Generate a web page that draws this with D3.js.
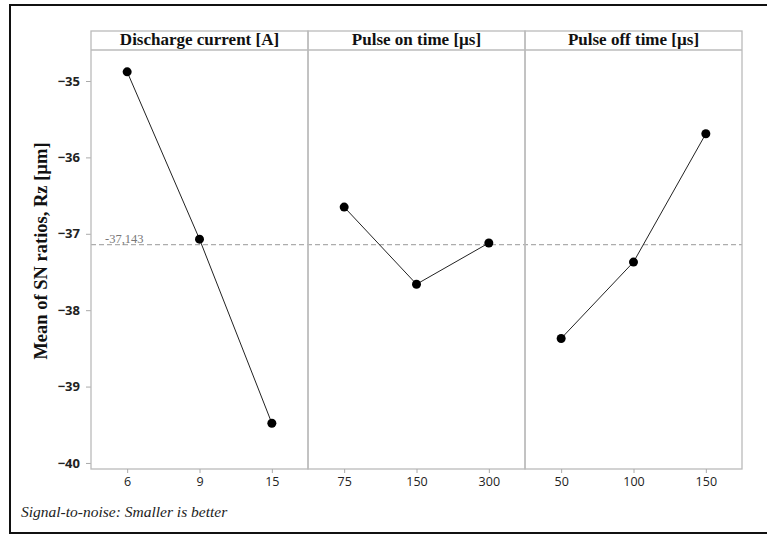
<!DOCTYPE html>
<html>
<head>
<meta charset="utf-8">
<script src="https://cdn.jsdelivr.net/npm/d3@7"></script>
<style>
  body { margin: 0; background: #fff; }
  .tick text { font-family: "Open Sans", "Noto Sans", sans-serif; }
  .serif { font-family: "Liberation Serif", "Times New Roman", serif; }
</style>
</head>
<body>
<script>
const factors = ["Discharge current [A]", "Pulse on time [µs]", "Pulse off time [µs]"];
const levels = [["6", "9", "15"], ["75", "150", "300"], ["50", "100", "150"]];
const snMeans = [
  [-34.88, -37.07, -39.48],
  [-36.65, -37.66, -37.12],
  [-38.37, -37.37, -35.69]
];
const yTicks = [-35, -36, -37, -38, -39, -40];
const grandMean = -37.143;

const width = 767, height = 534;
const plotLeft = 91, plotRight = 742, plotTop = 31, headerBottom = 50, plotBottom = 469;

const svg = d3.select("body").append("svg")
  .attr("width", width)
  .attr("height", height);

// outer frame
svg.append("rect")
  .attr("x", 10).attr("y", 5)
  .attr("width", 780).attr("height", 528)
  .attr("fill", "none")
  .attr("stroke", "#111")
  .attr("stroke-width", 2);

const x = d3.scaleBand().domain(factors).range([plotLeft, plotRight]);
const y = d3.scaleLinear().domain([-40.079, -34.594]).range([plotBottom, headerBottom]);

// y axis
const yAxis = svg.append("g")
  .attr("transform", `translate(${plotLeft},0)`)
  .call(d3.axisLeft(y).tickValues(yTicks).tickSize(5).tickPadding(6).tickFormat(d3.format("d")));
yAxis.select(".domain").remove();
yAxis.selectAll(".tick line").attr("stroke", "#aaa");
yAxis.selectAll(".tick text")
  .attr("font-size", 13)
  .attr("font-weight", 700)
  .attr("fill", "#222");

// mean line
svg.append("line")
  .attr("x1", plotLeft).attr("x2", plotRight)
  .attr("y1", y(grandMean)).attr("y2", y(grandMean))
  .attr("stroke", "#999")
  .attr("stroke-width", 1)
  .attr("stroke-dasharray", "5,3");

svg.append("text")
  .attr("class", "serif")
  .attr("x", plotLeft + 14)
  .attr("y", y(grandMean) - 2)
  .attr("font-size", 12.5)
  .attr("fill", "#777")
  .text(String(grandMean).replace(".", ","));

factors.forEach((f, i) => {
  const x0 = x(f);
  const bw = x.bandwidth();
  const g = svg.append("g").attr("transform", `translate(${x0},0)`);

  const xp = d3.scalePoint().domain(levels[i]).range([0, bw]).padding(0.5);

  // panel box and header
  g.append("rect")
    .attr("x", 0).attr("y", plotTop)
    .attr("width", bw).attr("height", plotBottom - plotTop)
    .attr("fill", "none")
    .attr("stroke", "#bbb")
    .attr("stroke-width", 1.3);
  g.append("line")
    .attr("x1", 0).attr("x2", bw)
    .attr("y1", headerBottom).attr("y2", headerBottom)
    .attr("stroke", "#bbb")
    .attr("stroke-width", 1.3);
  g.append("text")
    .attr("class", "serif")
    .attr("x", bw / 2)
    .attr("y", headerBottom - 5)
    .attr("text-anchor", "middle")
    .attr("font-weight", "bold")
    .attr("font-size", 17)
    .attr("fill", "#111")
    .text(f);

  // x axis
  const xAxis = g.append("g")
    .attr("transform", `translate(0,${plotBottom})`)
    .call(d3.axisBottom(xp).tickSize(4).tickPadding(4));
  xAxis.select(".domain").remove();
  xAxis.selectAll(".tick line").attr("stroke", "#aaa");
  xAxis.selectAll(".tick text")
    .attr("font-size", 12.5)
    .attr("fill", "#222");

  const pts = levels[i].map((l, j) => [xp(l), y(snMeans[i][j])]);

  g.append("path")
    .attr("d", d3.line()(pts))
    .attr("fill", "none")
    .attr("stroke", "#222")
    .attr("stroke-width", 1);

  g.selectAll("circle.pt")
    .data(pts)
    .enter()
    .append("circle")
    .attr("class", "pt")
    .attr("cx", d => d[0])
    .attr("cy", d => d[1])
    .attr("r", 4.5)
    .attr("fill", "#000");
});

// y title
svg.append("text")
  .attr("class", "serif")
  .attr("transform", "translate(47,251) rotate(-90)")
  .attr("text-anchor", "middle")
  .attr("font-weight", "bold")
  .attr("font-size", 18.5)
  .attr("fill", "#111")
  .text("Mean of SN ratios, Rz [µm]");

// footnote
svg.append("text")
  .attr("class", "serif")
  .attr("x", 21)
  .attr("y", 517)
  .attr("font-style", "italic")
  .attr("font-size", 15.5)
  .attr("fill", "#222")
  .text("Signal-to-noise: Smaller is better");
</script>
</body>
</html>
